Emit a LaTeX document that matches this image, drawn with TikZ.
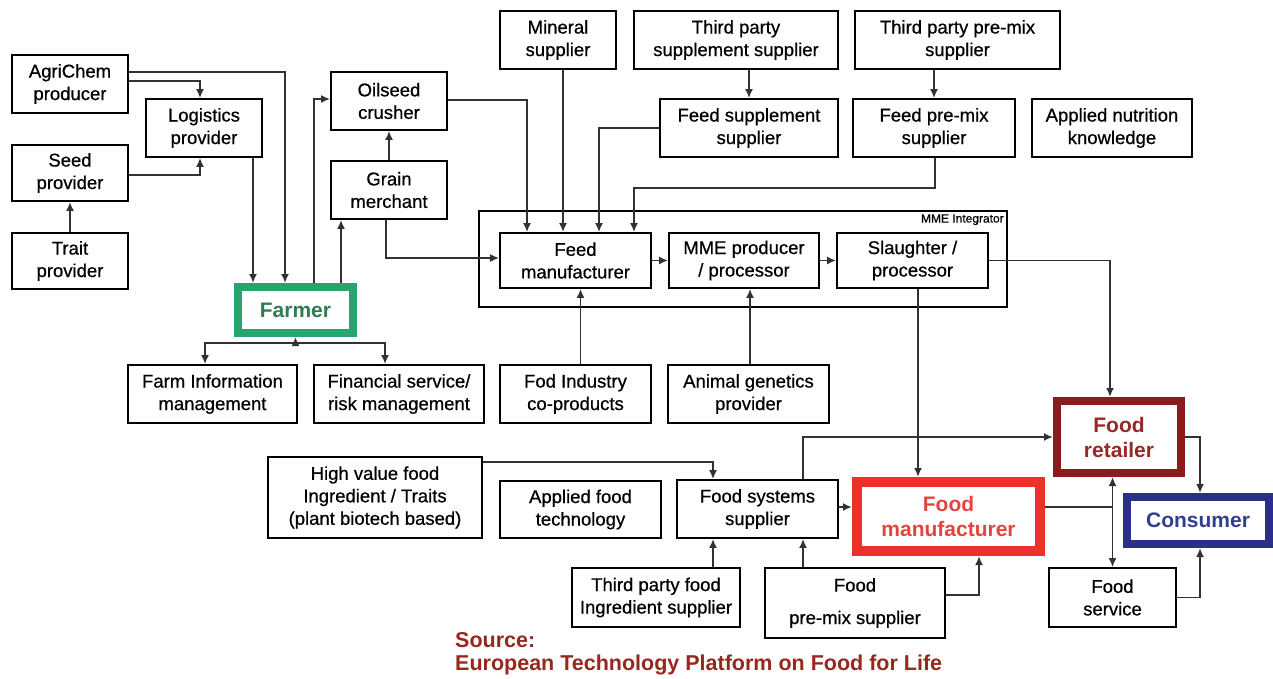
\documentclass[tikz,border=0pt]{standalone}
\usepackage{fontspec}
\setmainfont{Liberation Sans}
\newfontfamily\boxfont{Liberation Sans}[FakeBold=0.6]
\usetikzlibrary{arrows.meta,calc}
\definecolor{farmgreen}{RGB}{40,165,110}
\definecolor{farmtext}{RGB}{45,125,80}
\definecolor{retred}{RGB}{140,28,28}
\definecolor{rettext}{RGB}{150,40,40}
\definecolor{manred}{RGB}{236,48,42}
\definecolor{mantext}{RGB}{225,70,60}
\definecolor{consblue}{RGB}{42,48,135}
\definecolor{constext}{RGB}{50,62,145}
\definecolor{srctext}{RGB}{150,40,30}
\definecolor{conn}{RGB}{50,50,50}
\begin{document}
\begin{tikzpicture}[x=1pt,y=-1pt,
  box/.style={draw=black, line width=1.8pt, align=center, inner sep=0pt, font=\boxfont\fontsize{18.5}{22.5}\selectfont},
  hbox/.style={box, font=\bfseries\fontsize{21}{25}\selectfont},
  arr/.style={draw=conn, line width=1.9pt, -{Latex[length=9pt,width=8pt]}},
  ln/.style={draw=conn, line width=1.9pt},
]
\useasboundingbox (0,0) rectangle (1273,678);

% MME integrator frame
\node[draw=black, line width=1.8pt, minimum width=528pt, minimum height=96pt, inner sep=0pt] (mme) at (743,259) {};
\node[anchor=north east, inner sep=0pt, font=\boxfont\fontsize{12}{13}\selectfont] (mmelab) at ([xshift=-4pt,yshift=-4pt]mme.north east) {MME Integrator};

% left cluster
\node[box, minimum width=116pt, minimum height=58pt] (agri) at (70,84) {AgriChem\\producer};
\node[box, minimum width=116pt, minimum height=58pt] (logi) at (204,128) {Logistics\\provider};
\node[box, minimum width=116pt, minimum height=56pt] (seed) at (70,173) {Seed\\provider};
\node[box, minimum width=116pt, minimum height=56pt] (trait) at (70,261) {Trait\\provider};
\node[box, minimum width=116pt, minimum height=58pt] (oil) at (389,101) {Oilseed\\crusher};
\node[box, minimum width=116pt, minimum height=58pt] (grain) at (389,190) {Grain\\merchant};
\node[hbox, draw=farmgreen, line width=8pt, minimum width=115pt, minimum height=46pt, text=farmtext] (farmer) at (295.5,310) {Farmer};

% top suppliers
\node[box, minimum width=116pt, minimum height=58pt] (mineral) at (558,40) {Mineral\\supplier};
\node[box, minimum width=204pt, minimum height=58pt] (tps) at (736,40) {Third party\\supplement supplier};
\node[box, minimum width=205pt, minimum height=58pt] (tpp) at (957.5,40) {Third party pre-mix\\supplier};
\node[box, minimum width=178pt, minimum height=58pt] (fss) at (749,128) {Feed supplement\\supplier};
\node[box, minimum width=162pt, minimum height=58pt] (fps) at (934,128) {Feed pre-mix\\supplier};
\node[box, minimum width=160pt, minimum height=58pt] (ank) at (1112,128) {Applied nutrition\\knowledge};

% MME chain
\node[box, minimum width=151pt, minimum height=55pt] (feedm) at (575.5,260.5) {Feed\\manufacturer};
\node[box, minimum width=150pt, minimum height=55pt] (mmep) at (744,260.5) {MME producer\\/ processor};
\node[box, minimum width=151pt, minimum height=55pt] (slau) at (912.5,260.5) {Slaughter /\\processor};

% middle row
\node[box, minimum width=169pt, minimum height=58pt] (farminfo) at (212.5,394) {Farm Information\\management};
\node[box, minimum width=170pt, minimum height=58pt] (fin) at (399,394) {Financial service/\\risk management};
\node[box, minimum width=151pt, minimum height=58pt] (fod) at (575.5,394) {Fod Industry\\co-products};
\node[box, minimum width=161pt, minimum height=58pt] (agen) at (748.5,394) {Animal genetics\\provider};

% food part
\node[box, minimum width=214pt, minimum height=81pt] (hv) at (375,497.5) {High value food\\Ingredient / Traits\\(plant biotech based)};
\node[box, minimum width=161pt, minimum height=57pt] (aft) at (580.5,509.5) {Applied food\\technology};
\node[box, minimum width=161pt, minimum height=58pt] (fsys) at (757.5,509) {Food systems\\supplier};
\node[hbox, draw=manred, line width=10pt, minimum width=183pt, minimum height=69pt, text=mantext] (fman) at (948.5,516.5) {Food\\manufacturer};
\node[hbox, draw=retred, line width=8pt, minimum width=124pt, minimum height=72pt, text=rettext] (fret) at (1119,437) {Food\\retailer};
\node[hbox, draw=consblue, line width=8pt, minimum width=142pt, minimum height=47pt, text=constext] (cons) at (1198,520.5) {Consumer};
\node[box, minimum width=168pt, minimum height=59pt] (tpf) at (656,597.5) {Third party food\\Ingredient supplier};
\node[box, minimum width=180pt, minimum height=70pt] (fpm) at (855,603) {Food\\[10pt]pre-mix supplier};
\node[box, minimum width=127pt, minimum height=59pt] (fserv) at (1112.5,597.5) {Food\\service};

% source
\node[anchor=north west, align=left, inner sep=0pt, text=srctext, font=\bfseries\fontsize{21.5}{23.5}\selectfont] (src) at (455,632) {Source:\\European Technology Platform on Food for Life};

% connectors, left cluster
\draw[arr] ([yshift=12pt]agri.east) -| ([xshift=-10.5pt]farmer.north);
\draw[arr] ([yshift=3pt]agri.east) -| ([xshift=-4pt]logi.north);
\draw[arr] ([yshift=-2pt]seed.east) -| ([xshift=-4pt]logi.south);
\draw[arr] (trait.north) -- (seed.south);
\draw[arr] ([xshift=49pt]logi.south) -- ([xshift=49pt]logi.south |- farmer.north);
\draw[arr] ([xshift=18.5pt]farmer.north) |- ([yshift=2pt]oil.west);
\draw[arr] ([xshift=45.5pt]farmer.north) -- ([xshift=45.5pt]farmer.north |- grain.south);
\draw[arr] (grain.north) -- (oil.south);
\draw[arr] ([xshift=-3pt]grain.south) |- ([yshift=2.5pt]feedm.west);

% farmer services
\coordinate (fj) at ([yshift=-6pt]farmer.south);
\draw[arr] (fj) -- (farmer.south);
\draw[arr] (fj) -| ([xshift=-7.5pt]farminfo.north);
\draw[arr] (fj) -| ([xshift=-14pt]fin.north);

% into feed manufacturer
\draw[arr] ([yshift=1pt]oil.east) -| ([xshift=-48.5pt]feedm.north);
\draw[arr] ([xshift=-12.5pt]feedm.north |- mineral.south) -- ([xshift=-12.5pt]feedm.north);
\draw[arr] (fss.west) -| ([xshift=23.5pt]feedm.north);
\coordinate (pm) at (935,188);
\draw[arr] (fps.south -| pm) -- (pm) -| ([xshift=58.5pt]feedm.north);
\draw[arr] (fss.north |- tps.south) -- (fss.north);
\draw[arr] (fps.north |- tpp.south) -- (fps.north);

% MME chain
\draw[arr] (feedm.east) -- (mmep.west);
\draw[arr] (mmep.east) -- (slau.west);
\draw[arr] ([xshift=5pt]fod.north) -- ([xshift=5pt]feedm.south);
\draw[arr] ([xshift=6pt]mmep.south |- agen.north) -- ([xshift=6pt]mmep.south);
\draw[arr] ([xshift=5.5pt]slau.south) -- ([xshift=5.5pt]slau.south |- fman.north);
\draw[arr] (slau.east) -| ([xshift=-9pt]fret.north);

% food part
\draw[arr] ([yshift=-6pt]hv.north east) -| ([xshift=-44.5pt]fsys.north);
\draw[arr] ([xshift=-44.5pt]fsys.south |- tpf.north) -- ([xshift=-44.5pt]fsys.south);
\draw[arr] ([xshift=45.5pt]fsys.south |- fpm.north) -- ([xshift=45.5pt]fsys.south);
\draw[arr] ([yshift=2pt]fsys.east) -- ([yshift=2pt]fsys.east -| fman.west);
\draw[arr] ([xshift=45.5pt]fsys.north) |- (fret.west);
\draw[arr] ([yshift=8pt]fpm.east) -| ([xshift=30.5pt]fman.south);
\coordinate (fe) at ([yshift=9.5pt]fman.east);
\coordinate (rj) at (fe -| fserv.north);
\draw[ln] (fe) -- (rj);
\draw[arr] (rj) -- (rj |- fret.south);
\draw[arr] (rj) -- (fserv.north);
\draw[arr] (fret.east) -| ([xshift=2pt]cons.north);
\draw[arr] (fserv.east) -| ([xshift=2pt]cons.south);
\end{tikzpicture}
\end{document}
